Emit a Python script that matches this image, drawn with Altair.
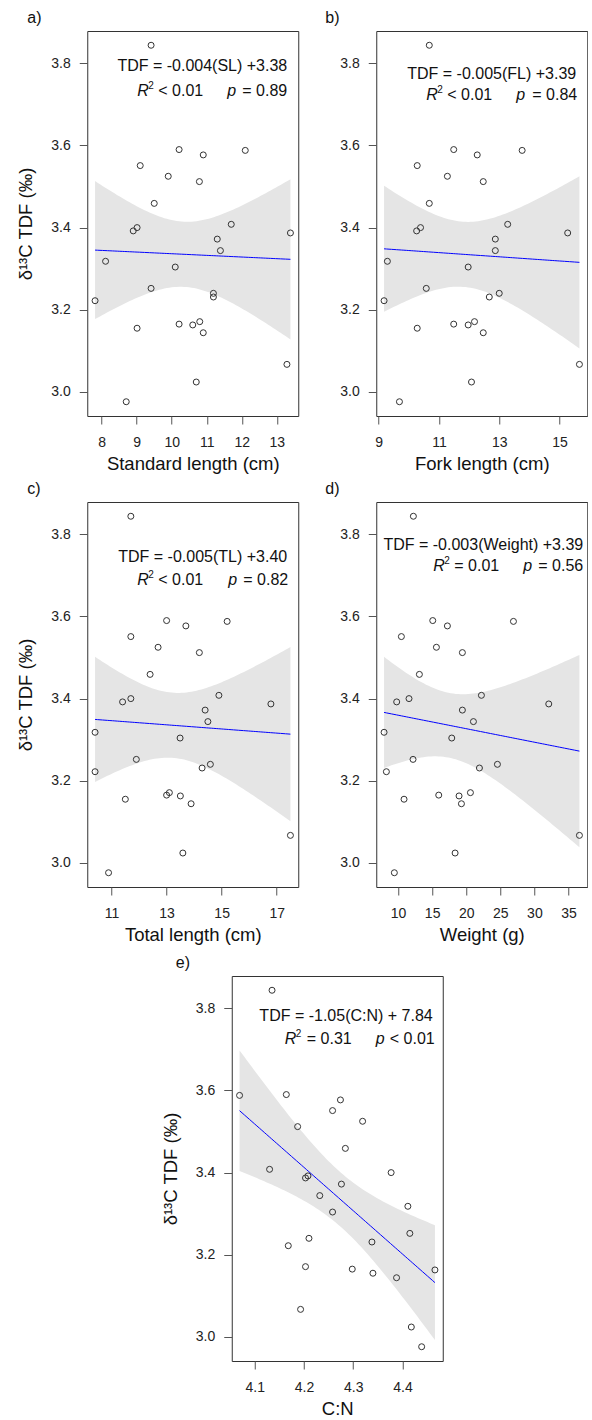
import altair as alt
import numpy as np
import pandas as pd

# d13C TDF (same fish in every panel)
tdf = [3.844, 3.590, 3.588, 3.577, 3.551, 3.525, 3.512, 3.459, 3.408, 3.400,
       3.392, 3.387, 3.372, 3.344, 3.318, 3.304, 3.252, 3.240, 3.231, 3.222,
       3.171, 3.165, 3.163, 3.155, 3.144, 3.067, 3.024, 2.976]
sl = [9.41, 10.21, 12.10, 10.90, 9.10, 9.90, 10.79, 9.50, 11.70, 9.01,
      8.90, 13.39, 11.30, 11.39, 8.11, 10.10, 9.41, 11.19, 11.19, 7.81,
      10.80, 10.21, 10.60, 9.01, 10.90, 13.29, 10.70, 8.70]
fl = [10.68, 11.49, 13.76, 12.27, 10.28, 11.28, 12.47, 10.68, 13.28, 10.39,
      10.26, 15.27, 12.87, 12.87, 9.29, 11.97, 10.58, 13.00, 12.67, 9.18,
      12.18, 11.49, 11.97, 10.28, 12.47, 15.66, 12.08, 9.69]
tl = [11.70, 13.00, 15.20, 13.70, 11.70, 12.69, 14.19, 12.40, 14.90, 11.70,
      11.40, 16.79, 14.40, 14.50, 10.40, 13.49, 11.90, 14.59, 14.29, 10.40,
      13.10, 13.00, 13.50, 11.50, 13.89, 17.50, 13.59, 10.89]
wt = [12.25, 15.09, 26.93, 17.24, 10.49, 15.63, 19.44, 13.13, 22.23, 11.61,
      9.80, 32.11, 19.44, 21.06, 7.95, 17.88, 12.20, 24.58, 21.94, 8.29,
      20.62, 15.97, 18.95, 10.88, 19.30, 36.61, 18.37, 9.46]
cn = [4.135, 4.164, 4.069, 4.274, 4.258, 4.319, 4.187, 4.284, 4.130, 4.377,
      4.208, 4.203, 4.276, 4.232, 4.411, 4.258, 4.415, 4.210, 4.338, 4.168,
      4.203, 4.298, 4.466, 4.340, 4.388, 4.193, 4.418, 4.439]

panel_labels = ["a)", "b)", "c)", "d)", "e)"]
x_titles = ["Standard length (cm)", "Fork length (cm)", "Total length (cm)",
            "Weight (g)", "C:N"]
x_ticks = [[8, 9, 10, 11, 12, 13], [9, 10, 11, 12, 13, 14, 15],
           [11, 12, 13, 14, 15, 16, 17], [10, 15, 20, 25, 30, 35],
           [4.1, 4.2, 4.3, 4.4]]
eq_text = ["TDF = -0.004(SL) +3.38", "TDF = -0.005(FL) +3.39",
           "TDF = -0.005(TL) +3.40", "TDF = -0.003(Weight) +3.39",
           "TDF = -1.05(C:N) + 7.84"]
r2_text = ["< 0.01", "< 0.01", "< 0.01", "= 0.01", "= 0.31"]
p_text = ["= 0.89", "= 0.84", "= 0.82", "= 0.56", "< 0.01"]
y_title = "δ¹³C TDF (‰)"

FONT = "Liberation Sans"
W, H = 211, 385
T_CRIT = 2.056  # t(0.975, df=26)


def ext(v):
    lo, hi = min(v), max(v)
    s = hi - lo
    return [lo - 0.04 * s, hi + 0.04 * s]


def fit_band(x, y):
    x = np.asarray(x, float)
    y = np.asarray(y, float)
    n = len(x)
    b, a = np.polyfit(x, y, 1)
    res = y - (a + b * x)
    s = np.sqrt(np.sum(res ** 2) / (n - 2))
    sxx = np.sum((x - x.mean()) ** 2)
    g = np.linspace(x.min(), x.max(), 80)
    fit = a + b * g
    se = s * np.sqrt(1.0 / n + (g - x.mean()) ** 2 / sxx)
    return pd.DataFrame({"x": g, "fit": fit, "lo": fit - T_CRIT * se,
                         "hi": fit + T_CRIT * se})


# annotation layout per panel: (line1 right, y1, R left, R-part right, p left, p-part right, y2)
ann_pos = [(200, 40, 50, 116, 140, 200, 65),
           (200, 48, 50, 116, 140, 201, 69),
           (200, 60, 50, 116, 141, 201, 83),
           (207, 48, 57, 123, 147, 207, 69),
           (201, 45, 53, 120, 144, 203, 68)]
label_dx = [-60, -51, -60, -51, -56]


def txt(s, x, y, align="left", size=16, style="normal"):
    return alt.Chart(pd.DataFrame({"t": [s]})).mark_text(
        align=align, baseline="alphabetic", font=FONT, fontSize=size,
        fontStyle=style, color="#111"
    ).encode(text="t:N", x=alt.value(x), y=alt.value(y))


def panel(i, xv, show_ytitle):
    xd = ext(xv)
    yd = ext(tdf)
    df = pd.DataFrame({"x": xv, "y": tdf})
    band = fit_band(xv, tdf)
    fmt = ".1f" if i == 4 else "d"
    xs = alt.Scale(domain=xd, nice=False, zero=False)
    ys = alt.Scale(domain=yd, nice=False, zero=False)
    xax = alt.Axis(values=x_ticks[i], format=fmt, title=x_titles[i])
    yax = alt.Axis(values=[3.0, 3.2, 3.4, 3.6, 3.8], format=".1f",
                   title=y_title if show_ytitle else "")
    area = alt.Chart(band).mark_area(color="#e5e5e5", opacity=1).encode(
        x=alt.X("x:Q", scale=xs, axis=xax),
        y=alt.Y("lo:Q", scale=ys, axis=yax),
        y2="hi:Q")
    line = alt.Chart(band).mark_line(color="#0000ff", strokeWidth=1).encode(
        x="x:Q", y="fit:Q")
    pts = alt.Chart(df).mark_point(shape="circle", filled=False, size=36,
                                   stroke="#333", strokeWidth=1,
                                   opacity=1).encode(x="x:Q", y="y:Q")
    r1, y1, xr, xre, xp, xpe, y2 = ann_pos[i]
    texts = [
        txt(panel_labels[i], label_dx[i], -8),
        txt(eq_text[i], r1, y1, align="right"),
        txt("R", xr, y2, style="italic"),
        txt("2", xr + 11, y2 - 7, size=10),
        txt(r2_text[i], xre, y2, align="right"),
        txt("p", xp, y2, style="italic"),
        txt(p_text[i], xpe, y2, align="right"),
    ]
    return alt.layer(area, line, pts, *texts).properties(width=W, height=H)


pa = panel(0, sl, True)
pb = panel(1, fl, False)
pc = panel(2, tl, True)
pd_ = panel(3, wt, False)
pe = panel(4, cn, True)

row1 = alt.hconcat(pa, pb, spacing=25)
row2 = alt.hconcat(pc, pd_, spacing=25)
top = alt.vconcat(row1, row2, spacing=7)

chart = alt.vconcat(top, pe, spacing=10, center=True).properties(
    padding={"left": 16, "top": 9, "right": 0, "bottom": 0}
).configure_view(
    stroke="#333", strokeWidth=1
).configure_axis(
    domain=False, grid=False, ticks=True, tickSize=8, tickColor="#555",
    tickWidth=1, labelFont=FONT, labelFontSize=14, labelColor="#222",
    titleFont=FONT, titleFontSize=18.5, titleFontWeight="normal",
    titleColor="#111"
).configure_axisY(
    labelPadding=9, titlePadding=15
).configure_axisX(
    labelPadding=11, titlePadding=5
)

chart.save("out.html", embed_options={"renderer": "svg", "actions": False})
